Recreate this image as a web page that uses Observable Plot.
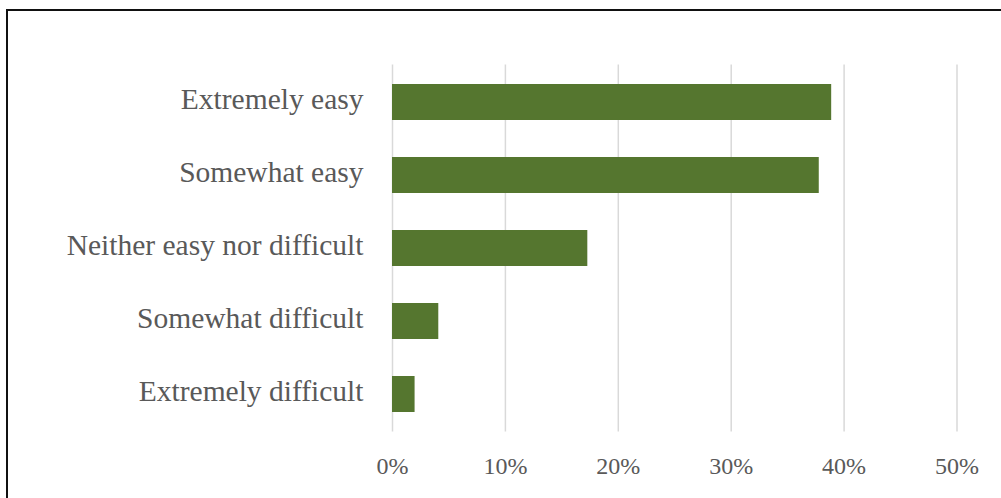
<!DOCTYPE html>
<html>
<head>
<meta charset="utf-8">
<script src="https://cdn.jsdelivr.net/npm/d3@7"></script>
<script src="https://cdn.jsdelivr.net/npm/@observablehq/plot@0.6"></script>
<style>
  html, body { margin: 0; padding: 0; background: #fff; overflow: hidden; }
  #chart { position: absolute; left: 0; top: 0; }
  #frame { position: absolute; left: 6px; top: 9px; width: 1100px; height: 600px;
           border-left: 2px solid #111; border-top: 2px solid #111; pointer-events: none; }
</style>
</head>
<body>
<div id="chart"></div>
<div id="frame"></div>
<script>
const categories = ["Extremely easy", "Somewhat easy", "Neither easy nor difficult", "Somewhat difficult", "Extremely difficult"];
const values = [0.389, 0.378, 0.173, 0.041, 0.020];
const xTicks = [0, 0.1, 0.2, 0.3, 0.4, 0.5];

const data = categories.map((c, i) => ({category: c, value: values[i]}));

const chart = Plot.plot({
  width: 1001,
  height: 498,
  marginLeft: 392,
  marginRight: 44.5,
  marginTop: 64.5,
  marginBottom: 66.5,
  style: {fontFamily: "'Liberation Serif', serif", color: "#595959", background: "#fff", overflow: "visible"},
  x: {domain: [0, 0.5]},
  y: {domain: categories, paddingInner: 0.51, paddingOuter: 0.255},
  marks: [
    Plot.gridX(xTicks, {stroke: "#d9d9d9", strokeWidth: 1.5, strokeOpacity: 1}),
    Plot.barX(data, {x: "value", y: "category", fill: "#55762f"}),
    Plot.axisX(xTicks, {tickSize: 0, tickPadding: 25, tickFormat: d3.format(".0%"), fontSize: 24, label: null, fill: "#595959"}),
    Plot.axisY({tickSize: 0, tickPadding: 29, fontSize: 29.5, dy: -2.5, label: null, fill: "#595959"})
  ]
});
document.getElementById("chart").appendChild(chart);
</script>
</body>
</html>
